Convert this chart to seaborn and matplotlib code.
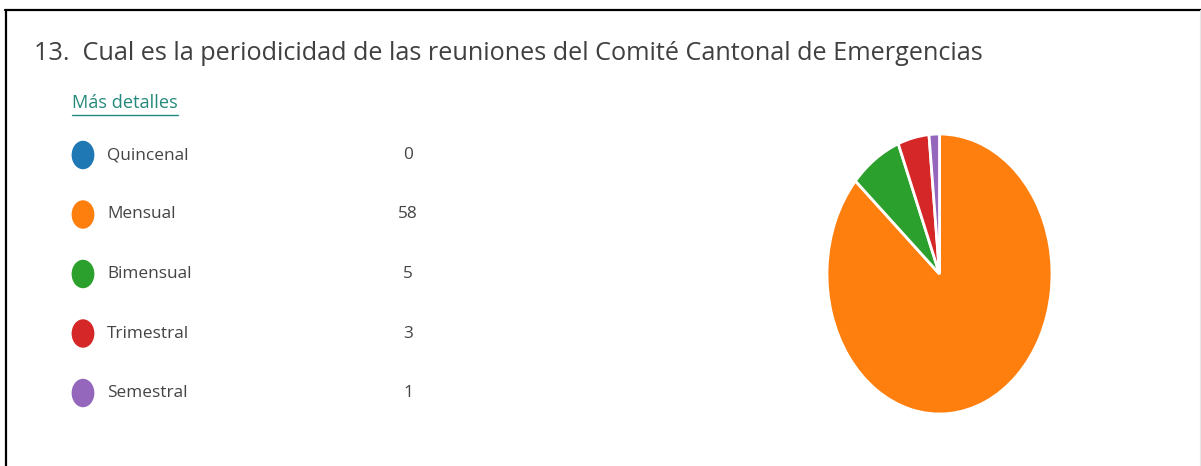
import matplotlib
matplotlib.use("Agg")
import matplotlib.pyplot as plt
import seaborn as sns
import pandas as pd
from matplotlib.lines import Line2D
from matplotlib.path import Path
from matplotlib.transforms import Affine2D

# data
categories = ["Quincenal", "Mensual", "Bimensual", "Trimestral", "Semestral"]
counts = [0, 58, 5, 3, 1]
title = "13.  Cual es la periodicidad de las reuniones del Comité Cantonal de Emergencias"
link_text = "Más detalles"

sns.set_theme(style="white")
plt.rcParams['font.family'] = ['Open Sans', 'DejaVu Sans']
colors = sns.color_palette("tab10", len(categories))

W, H = 1201, 466
fig = plt.figure(figsize=(W / 100, H / 100), dpi=100)
fig.patch.set_facecolor("white")

# frame lines (screenshot border)
fig.add_artist(Line2D([5 / W, 1], [1 - 9.5 / H, 1 - 9.5 / H], color="black", lw=1.6, transform=fig.transFigure))
fig.add_artist(Line2D([5.5 / W, 5.5 / W], [0, 1 - 9.5 / H], color="black", lw=1.6, transform=fig.transFigure))
fig.add_artist(Line2D([1200 / W, 1200 / W], [0, 1 - 9.5 / H], color="#e6e6e6", lw=0.8, transform=fig.transFigure))

renderer = fig.canvas.get_renderer()


def fit_width(t, target_px):
    # scale the font so the text spans the same width as in the screenshot
    w = t.get_window_extent(renderer).width
    t.set_fontsize(t.get_fontsize() * target_px / w)


# title and link
t = fig.text(34 / W, 1 - 53 / H, title, fontsize=20, color="#404040", va="center", ha="left")
fit_width(t, 951)
lk = fig.text(72 / W, 1 - 103 / H, link_text, fontsize=12, color="#23897a", va="center", ha="left")
fit_width(lk, 105)
ext = lk.get_window_extent(renderer)
fig.add_artist(Line2D([ext.x0 / W, ext.x1 / W], [1 - 115 / H, 1 - 115 / H], color="#23897a", lw=1.0,
                      transform=fig.transFigure))

# legend list: rows by category index
ax_leg = fig.add_axes([0, 0, 700 / W, 1])
ax_leg.set_xlim(0, 700)
row0, step = 155, 59.5
ax_leg.set_ylim(-row0 / step + H / step, -row0 / step)
ax_leg.axis("off")

# slightly tall oval marker, like the squeezed screenshot
oval = Path.unit_circle().transformed(Affine2D().scale(0.8, 1.0))

df = pd.DataFrame({"category": categories, "count": counts, "row": range(len(categories))})
df["dot_x"] = 83
sns.scatterplot(data=df, x="dot_x", y="row", hue="category", palette=colors, s=420,
                marker=oval, linewidth=0, legend=False, ax=ax_leg)
label_size = None
for _, r in df.iterrows():
    lt = ax_leg.text(107, r["row"], r["category"], fontsize=12, color="#444444", va="center", ha="left")
    if label_size is None:
        lt.set_text("Bimensual")
        fit_width(lt, 84)
        label_size = lt.get_fontsize()
        lt.set_text(r["category"])
    lt.set_fontsize(label_size)
    ax_leg.text(408, r["row"], str(r["count"]), fontsize=label_size, color="#444444", va="center", ha="center")

# pie (elliptical, as in the screenshot)
ax_pie = fig.add_axes([827 / W, 1 - 414 / H, 225 / W, 280 / H])
ax_pie.pie(counts, colors=colors, startangle=90, counterclock=False,
           wedgeprops=dict(edgecolor="white", linewidth=2))
ax_pie.set_aspect("auto")
ax_pie.set_xlim(-1, 1)
ax_pie.set_ylim(-1, 1)

fig.savefig("out.png", dpi=100, facecolor="white")
